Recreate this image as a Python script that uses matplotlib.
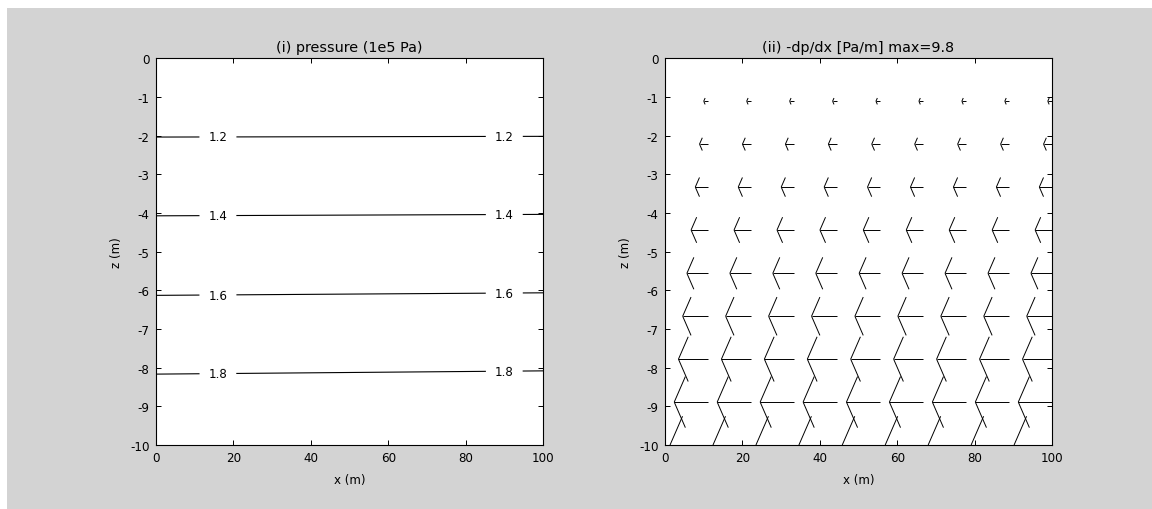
import numpy as np
import matplotlib
matplotlib.use("Agg")
import matplotlib.pyplot as plt
from matplotlib.collections import LineCollection
from matplotlib.patches import Rectangle

# grid of the model (x across, z down)
x_grid = [0, 11.1, 22.2, 33.3, 44.4, 55.6, 66.7, 77.8, 88.9, 100]
z_grid = [0, -1.11, -2.22, -3.33, -4.44, -5.56, -6.67, -7.78, -8.89, -10]

# pressure (1e5 Pa) along the left and right edges
p_left = [1.000, 1.109, 1.218, 1.327, 1.436, 1.544, 1.653, 1.762, 1.871, 1.980]
p_right = [1.000, 1.110, 1.220, 1.330, 1.440, 1.550, 1.660, 1.770, 1.880, 1.990]
p_levels = [1.2, 1.4, 1.6, 1.8]
label_x = [16, 90]

# -dp/dx (Pa/m) for each depth row, same at every x
minus_dpdx = [0, -1.09, -2.18, -3.27, -4.36, -5.44, -6.53, -7.62, -8.71, -9.80]

plt.rcParams['font.family'] = ['DejaVu Sans']
plt.rcParams['font.size'] = 8.6
plt.rcParams['axes.unicode_minus'] = False


def style_axes(ax):
    ax.set_xlim(0, 100)
    ax.set_ylim(-10, 0)
    ax.set_xticks([0, 20, 40, 60, 80, 100])
    ax.set_yticks(list(range(-10, 1)))
    ax.tick_params(direction='in', top=True, right=True, length=3.6,
                   width=0.7, pad=4.6, colors='black')
    for s in ax.spines.values():
        s.set_linewidth(0.8)
    ax.set_xlabel('x (m)', labelpad=6)
    ax.set_ylabel('z (m)', labelpad=5)


def matlab_arrows(x, z, u, alpha=0.33, beta=0.23):
    # shaft plus the two open head lines, like matlab quiver
    segs = []
    for zi, ui in zip(z, u):
        if ui == 0:
            continue
        for xi in x:
            tip = xi + ui
            segs.append([(xi, zi), (tip, zi)])
            segs.append([(tip, zi), (tip - alpha * ui, zi + alpha * beta * ui)])
            segs.append([(tip, zi), (tip - alpha * ui, zi - alpha * beta * ui)])
    return segs


fig = plt.figure(figsize=(11.52, 5.1), dpi=100)
fig.patch.set_facecolor('white')
fig.add_artist(Rectangle((7 / 1152, 0), 1 - 7 / 1152, 1 - 9 / 510,
                         transform=fig.transFigure, facecolor='#d3d3d3',
                         edgecolor='none', zorder=-10))

ax1 = fig.add_axes([156 / 1152, 64 / 510, 387 / 1152, 386.7 / 510])
ax2 = fig.add_axes([665 / 1152, 64 / 510, 387 / 1152, 386.7 / 510])

# (i) pressure contours
P = np.column_stack([p_left, p_right])
cs = ax1.contour([0, 100], z_grid, P, levels=p_levels, colors='black',
                 linewidths=0.8)
manual = []
for lev in p_levels:
    zl = np.interp(lev, p_left, z_grid)
    for lx in label_x:
        manual.append((lx, zl))
ax1.clabel(cs, fmt='%.1f', manual=manual, inline=True, inline_spacing=9,
           fontsize=8.6, colors='black')
ax1.set_title('(i) pressure (1e5 Pa)', pad=5.5)
style_axes(ax1)

# (ii) horizontal pressure gradient
lc = LineCollection(matlab_arrows(x_grid, z_grid, minus_dpdx),
                    colors='black', linewidths=0.7)
ax2.add_collection(lc)
ax2.set_title('(ii) -dp/dx [Pa/m] max=9.8', pad=5.5)
style_axes(ax2)

fig.savefig('out.png', dpi=100, facecolor=fig.get_facecolor())
